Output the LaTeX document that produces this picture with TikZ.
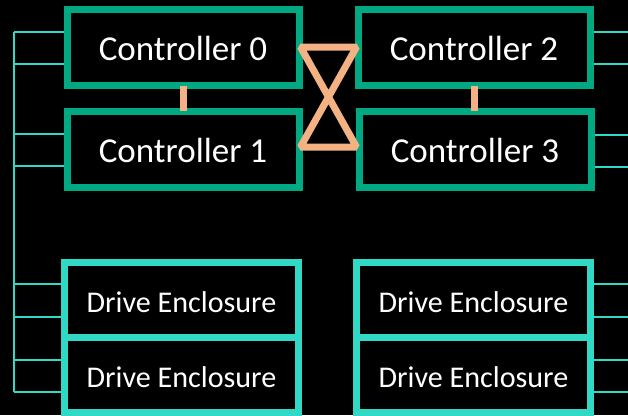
\documentclass[tikz,border=0pt]{standalone}
\usepackage{fontspec}
\setmainfont{Carlito}
\usetikzlibrary{calc}
\definecolor{ctrlgreen}{HTML}{01A982}
\definecolor{encteal}{HTML}{2FD9C6}
\definecolor{linkorange}{HTML}{F4B183}
\tikzset{
  ctrlbox/.style={draw=ctrlgreen, line width=7pt, fill=black, minimum width=232pt, minimum height=76pt, inner sep=0pt, text=white, text height=27.5pt, text depth=0pt, font=\fontsize{35}{41}\selectfont},
  encbox/.style={draw=encteal, line width=7pt, minimum width=234pt, minimum height=75pt, inner sep=0pt, text=white, text height=26.5pt, text depth=0pt, font=\fontsize{30.1}{36}\selectfont},
  bus/.style={draw=encteal, line width=1.3pt},
  link/.style={draw=linkorange, line width=7pt, line join=miter},
}
\begin{document}
\begin{tikzpicture}[x=1pt,y=-1pt]
\fill[black] (0,0) rectangle (628,415);
\useasboundingbox (0,0) rectangle (628,415);
% bus end points
\coordinate (bL1) at (14,32);
\coordinate (bL2) at (14,64);
\coordinate (bL3) at (14,134);
\coordinate (bL4) at (14,166);
\coordinate (bL5) at (14,284);
\coordinate (bL6) at (14,317);
\coordinate (bL7) at (14,360);
\coordinate (bL8) at (14,392);
\coordinate (bR1) at (630,32);
\coordinate (bR2) at (630,64);
\coordinate (bR3) at (630,135);
\coordinate (bR4) at (630,167);
\coordinate (bR5) at (630,284);
\coordinate (bR6) at (630,317);
\coordinate (bR7) at (630,360);
\coordinate (bR8) at (630,392);
% nodes
\node[ctrlbox] (c0) at (183,47) {Controller 0};
\node[ctrlbox] (c1) at (183,149) {Controller 1};
\node[ctrlbox] (c2) at (474,47) {Controller 2};
\node[ctrlbox] (c3) at (475,149) {Controller 3};
\node[encbox] (e1) at (181.5,299.5) {Drive Enclosure};
\node[encbox] (e2) at (181.5,374.5) {Drive Enclosure};
\node[encbox] (e3) at (473.5,299.5) {Drive Enclosure};
\node[encbox] (e4) at (473.5,374.5) {Drive Enclosure};
% left bus
\draw[bus] (bL1) -- (bL8);
\draw[bus] (bL1) -- (bL1 -| c0.west);
\draw[bus] (bL2) -- (bL2 -| c0.west);
\draw[bus] (bL3) -- (bL3 -| c1.west);
\draw[bus] (bL4) -- (bL4 -| c1.west);
\draw[bus] (bL5) -- (bL5 -| e1.west);
\draw[bus] (bL6) -- (bL6 -| e1.west);
\draw[bus] (bL7) -- (bL7 -| e2.west);
\draw[bus] (bL8) -- (bL8 -| e2.west);
% right bus
\draw[bus] (bR1) -- (bR1 -| c2.east);
\draw[bus] (bR2) -- (bR2 -| c2.east);
\draw[bus] (bR3) -- (bR3 -| c3.east);
\draw[bus] (bR4) -- (bR4 -| c3.east);
\draw[bus] (bR5) -- (bR5 -| e3.east);
\draw[bus] (bR6) -- (bR6 -| e3.east);
\draw[bus] (bR7) -- (bR7 -| e4.east);
\draw[bus] (bR8) -- (bR8 -| e4.east);
% orange links
\draw[link, shorten <=-3pt, shorten >=-3pt] (c0.south) -- (c1.north);
\draw[link, shorten <=-3pt, shorten >=-3pt] (c2.south) -- (c2.south |- c3.north);
\coordinate (xTL) at ($(c0.east)+(-2,0)$);
\coordinate (xTR) at ($(c2.west)+(2,0)$);
\coordinate (xBL) at ($(c1.east)+(-2,-2)$);
\coordinate (xBR) at ($(c3.west)+(1,-2)$);
\draw[link, line join=bevel] (xTL) -- (xTR) -- (xBL) -- (xBR) -- cycle;
\end{tikzpicture}
\end{document}
